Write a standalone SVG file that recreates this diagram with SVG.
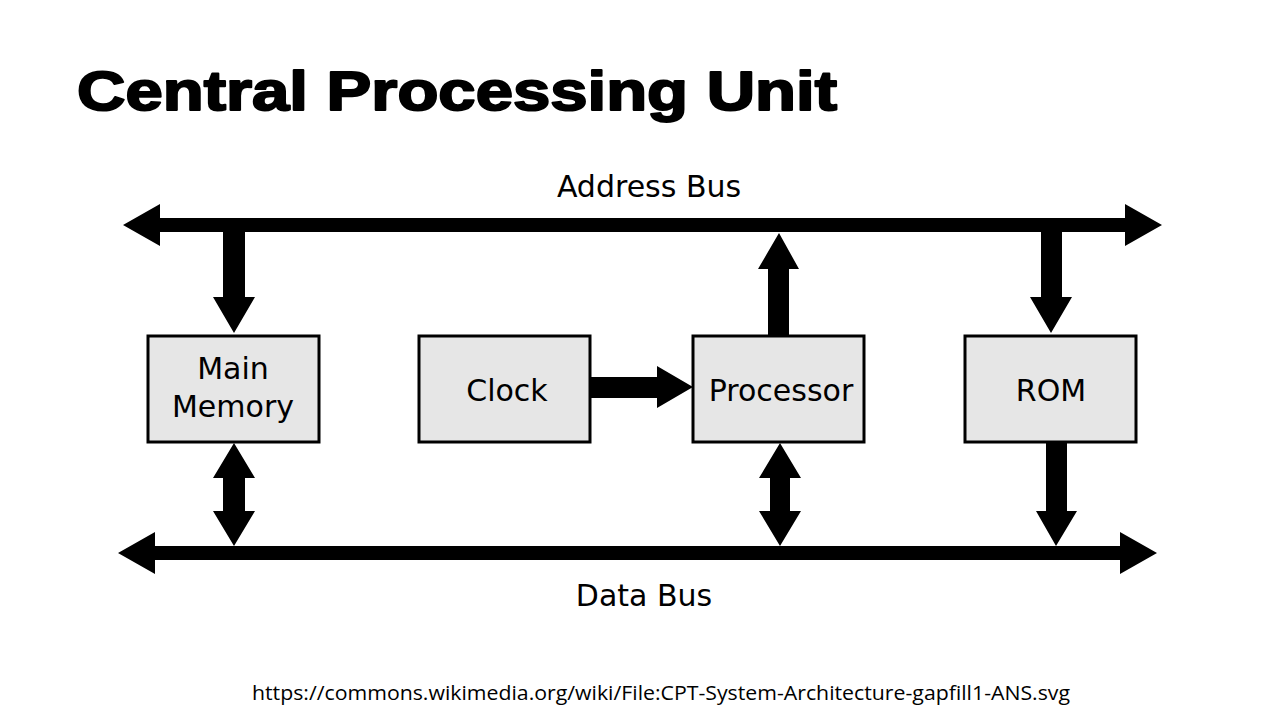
<svg xmlns="http://www.w3.org/2000/svg" width="1280" height="720" viewBox="0 0 1280 720">
<style>
.box{fill:#e6e6e6;stroke:#000;stroke-width:3}
.lbl{font-family:"DejaVu Sans",sans-serif;font-size:30px;fill:#000;text-anchor:middle}
.arr{fill:#000;stroke:none}
</style>
<rect width="1280" height="720" fill="#fff"/>
<text x="77" y="110" font-family="'Liberation Sans',Arial,sans-serif" font-weight="bold" font-size="56" fill="#000" stroke="#000" stroke-width="2" stroke-linejoin="round" textLength="760" lengthAdjust="spacingAndGlyphs">Central Processing Unit</text>
<text class="lbl" x="649" y="197">Address Bus</text>
<text class="lbl" x="644" y="606">Data Bus</text>
<g id="connectors">
<polygon class="arr" points="123,225 160,204 160,218 1125,218 1125,204 1162,225 1125,246 1125,232 160,232 160,246"/>
<polygon class="arr" points="118,553 155,532 155,546 1120,546 1120,532 1157,553 1120,574 1120,560 155,560 155,574"/>
<polygon class="arr" points="223,232 245,232 245,297 255,297 234,333 213,297 223,297"/>
<polygon class="arr" points="768,335 789,335 789,269 799,269 779,233 758,269 768,269"/>
<polygon class="arr" points="1041,232 1062,232 1062,297 1072,297 1051,333 1030,297 1041,297"/>
<polygon class="arr" points="234,443 255,478 245,478 245,511 255,511 234,546 213,511 223,511 223,478 213,478"/>
<polygon class="arr" points="780,443 801,478 790,478 790,511 801,511 780,546 759,511 770,511 770,478 759,478"/>
<polygon class="arr" points="1046,443 1067,443 1067,511 1077,511 1056,546 1036,511 1046,511"/>
<polygon class="arr" points="591,377 657,377 657,366 693,387 657,408 657,398 591,398"/>
</g>
<g id="main-memory">
<rect class="box" x="148" y="336" width="171" height="106"/>
<text class="lbl" x="233" y="379">Main</text>
<text class="lbl" x="233" y="417">Memory</text>
</g>
<g id="clock">
<rect class="box" x="419" y="336" width="171" height="106"/>
<text class="lbl" x="507" y="401">Clock</text>
</g>
<g id="processor">
<rect class="box" x="693" y="336" width="171" height="106"/>
<text class="lbl" x="781" y="401">Processor</text>
</g>
<g id="rom">
<rect class="box" x="965" y="336" width="171" height="106"/>
<text class="lbl" x="1051" y="401">ROM</text>
</g>
<text x="252" y="700" font-family="'Open Sans',sans-serif" font-size="20" textLength="818" lengthAdjust="spacingAndGlyphs">https://commons.wikimedia.org/wiki/File:CPT-System-Architecture-gapfill1-ANS.svg</text>
</svg>
